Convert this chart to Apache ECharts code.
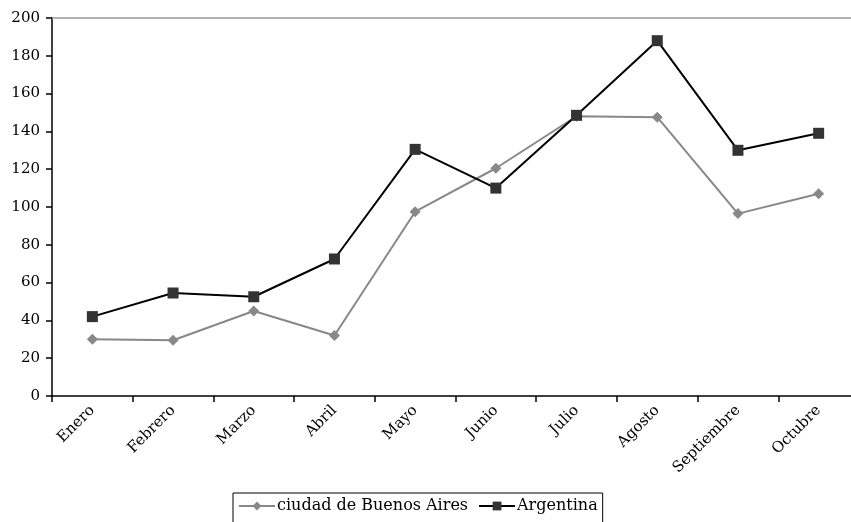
<!DOCTYPE html>
<html>
<head>
<meta charset="utf-8">
<script src="https://cdn.jsdelivr.net/npm/echarts@6/dist/echarts.min.js"></script>
<style>
  html, body { margin: 0; padding: 0; background: #fff; }
  #chart { width: 851px; height: 522px; }
</style>
</head>
<body>
<div id="chart"></div>
<script>
// Monthly values, two series
const months = ['Enero', 'Febrero', 'Marzo', 'Abril', 'Mayo', 'Junio', 'Julio', 'Agosto', 'Septiembre', 'Octubre'];
const buenosAires = [30, 29.5, 45, 32, 97.5, 120.5, 148, 147.5, 96.5, 107];
const argentina = [42, 54.5, 52.5, 72.5, 130.5, 110, 148.5, 188, 130, 139];
const yTicks = { min: 0, max: 200, interval: 20 };

const FONT = '"DejaVu Serif", "Liberation Serif", serif';

const chart = echarts.init(document.getElementById('chart'), null, { renderer: 'canvas' });
chart.setOption({
  backgroundColor: '#ffffff',
  animation: false,
  textStyle: { fontFamily: FONT, color: '#000' },
  grid: { left: 52, top: 18, right: -8, bottom: 126, containLabel: false, outerBoundsMode: 'none' },
  legend: {
    data: ['ciudad de Buenos Aires', 'Argentina'],
    left: 233,
    top: 493,
    itemWidth: 36,
    itemHeight: 11,
    itemGap: 10,
    padding: [5, 5, 14, 5],
    borderColor: '#000',
    borderWidth: 1,
    textStyle: { fontFamily: FONT, fontSize: 16, color: '#000', padding: [0, 0, 0, -3] }
  },
  xAxis: [
    {
      type: 'category',
      data: months,
      boundaryGap: true,
      axisLine: { lineStyle: { color: '#000', width: 1.5 } },
      axisTick: { show: true, length: 6, lineStyle: { color: '#000', width: 1.5 } },
      axisLabel: { rotate: 45, fontFamily: FONT, fontSize: 15, color: '#000', margin: 12, interval: 0 },
      splitLine: { show: false }
    },
    {
      // top frame line of the plot area
      type: 'category',
      position: 'top',
      data: months,
      axisLine: { lineStyle: { color: '#999', width: 1.5 } },
      axisTick: { show: false },
      axisLabel: { show: false },
      splitLine: { show: false }
    }
  ],
  yAxis: {
    type: 'value',
    min: yTicks.min,
    max: yTicks.max,
    interval: yTicks.interval,
    axisLine: { show: true, lineStyle: { color: '#000', width: 1.5 } },
    axisTick: { show: true, length: 6, lineStyle: { color: '#000', width: 1.5 } },
    axisLabel: { fontFamily: FONT, fontSize: 15, color: '#000', margin: 12 },
    splitLine: { show: false }
  },
  series: [
    {
      name: 'ciudad de Buenos Aires',
      type: 'line',
      data: buenosAires,
      symbol: 'diamond',
      symbolSize: 11,
      lineStyle: { color: '#888888', width: 2 },
      itemStyle: { color: '#888888' },
      z: 2
    },
    {
      name: 'Argentina',
      type: 'line',
      data: argentina,
      symbol: 'rect',
      symbolSize: 11,
      lineStyle: { color: '#000000', width: 2 },
      itemStyle: { color: '#333333' },
      z: 3
    }
  ]
});
</script>
</body>
</html>
